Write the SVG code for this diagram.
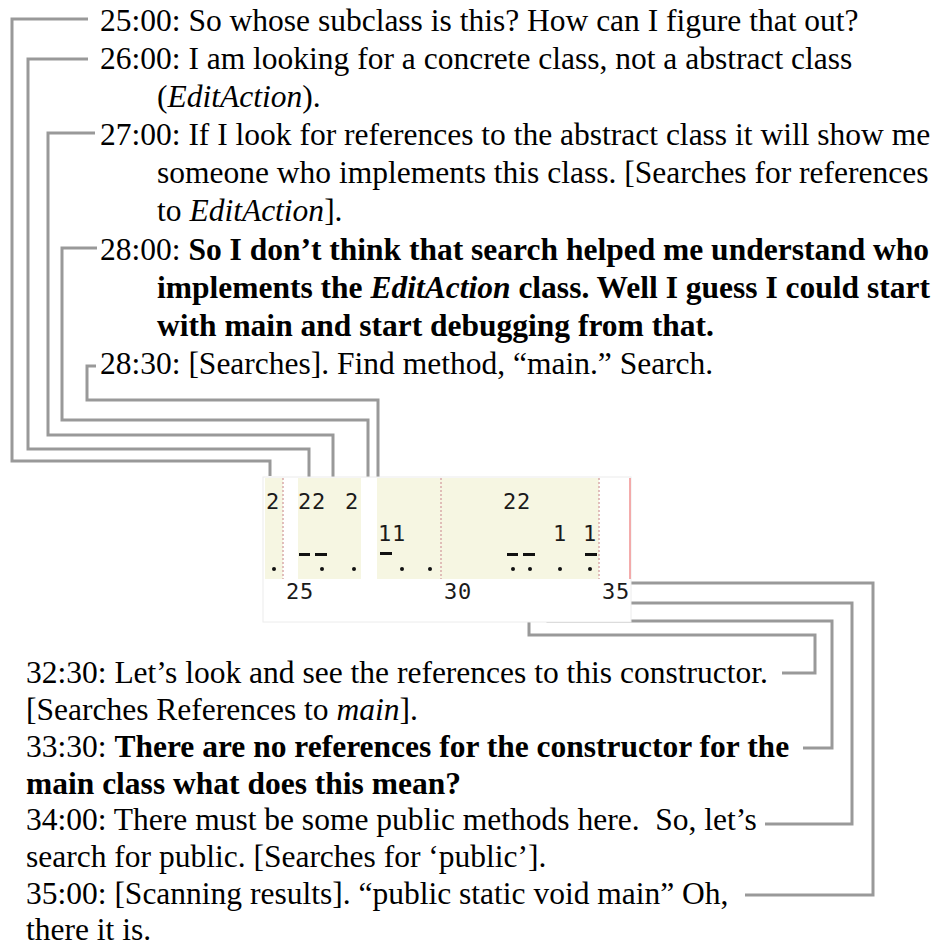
<svg xmlns="http://www.w3.org/2000/svg" width="940" height="950" viewBox="0 0 940 950">
<style>
.t{font-family:"Liberation Serif","Times New Roman",serif;font-size:31.5px;fill:#000;white-space:pre}
.b{font-weight:bold}
.i{font-style:italic}
.c{fill:none;stroke:#999;stroke-width:3;stroke-linejoin:miter}
.m{font-family:"DejaVu Sans Mono",monospace;font-size:22px;fill:#1a1a1a;letter-spacing:0.8px}
.dl{stroke:#d9aaaa;stroke-width:1.5;stroke-dasharray:2 2}
</style>
<rect width="940" height="950" fill="#fff"/>
<g id="connectors">
<polyline class="c" points="88,19 12,19 12,461 270,461 270,476"/>
<polyline class="c" points="88,59 28,59 28,449 309,449 309,477"/>
<polyline class="c" points="95,133 48,133 48,435 333,435 333,480"/>
<polyline class="c" points="97,248 62,248 62,420 368,420 368,478"/>
<polyline class="c" points="96,366 87,366 87,400 378,400 378,478"/>
<polyline class="c" points="529,568 529,635 815,635 815,673 782,673"/>
<polyline class="c" points="548,553 548,621 832,621 832,748 803,748"/>
<polyline class="c" points="567,553 567,603 852,603 852,824 765,824"/>
<polyline class="c" points="593,567 593,583 873,583 873,895 745,895"/>
</g>
<g id="timeline">
<rect x="263" y="477" width="368" height="145" fill="#fff" stroke="#ececec" stroke-width="1"/>
<rect x="265" y="478" width="18" height="101" fill="#f6f6e2"/>
<rect x="298" y="478" width="63" height="101" fill="#f6f6e2"/>
<rect x="377" y="478" width="222" height="101" fill="#f6f6e2"/>
<line class="dl" x1="283" y1="478" x2="283" y2="579"/>
<line class="dl" x1="441" y1="478" x2="441" y2="579"/>
<line class="dl" x1="599" y1="478" x2="599" y2="579"/>
<line x1="630" y1="478" x2="630" y2="579" stroke="#f09090" stroke-width="1.5"/>
<text class="m" x="266" y="509">2</text>
<text class="m" x="298" y="509">22</text>
<text class="m" x="345" y="509">2</text>
<text class="m" x="503" y="509">22</text>
<text class="m" x="378" y="541">11</text>
<text class="m" x="553" y="541">1</text>
<text class="m" x="583" y="541">1</text>
<g fill="#111">
<rect x="299" y="553" width="11" height="3"/>
<rect x="315" y="553" width="12" height="3"/>
<rect x="380" y="552" width="12" height="3"/>
<rect x="507" y="553" width="11" height="3"/>
<rect x="523" y="553" width="12" height="3"/>
<rect x="585" y="553" width="12" height="3"/>
<circle cx="274" cy="569" r="2"/>
<circle cx="322" cy="569" r="2"/>
<circle cx="354" cy="569" r="2"/>
<circle cx="402" cy="569" r="2"/>
<circle cx="430" cy="569" r="2"/>
<circle cx="513" cy="569" r="2"/>
<circle cx="530" cy="569" r="2"/>
<circle cx="560" cy="569" r="2"/>
<circle cx="590" cy="569" r="2"/>
</g>
<text class="m" x="286" y="599" fill="#333">25</text>
<text class="m" x="444" y="599" fill="#333">30</text>
<text class="m" x="602" y="599" fill="#333">35</text>
</g>
<g id="n2500"><text class="t" x="100" y="31">25:00: So whose subclass is this? How can I figure that out?</text></g>
<g id="n2600"><text class="t" x="100" y="69">26:00: I am looking for a concrete class, not a abstract class</text>
<text class="t" x="157" y="107">(<tspan class="i">EditAction</tspan>).</text></g>
<g id="n2700"><text class="t" x="100" y="145">27:00: If I look for references to the abstract class it will show me</text>
<text class="t" x="157" y="183">someone who implements this class. [Searches for references</text>
<text class="t" x="157" y="221">to <tspan class="i">EditAction</tspan>].</text></g>
<g id="n2800"><text class="t" x="100" y="259.5">28:00: <tspan class="b">So I don’t think that search helped me understand who</tspan></text>
<text class="t b" x="157" y="297.5">implements the <tspan class="i">EditAction</tspan> class. Well I guess I could start</text>
<text class="t b" x="157" y="335.5">with main and start debugging from that.</text></g>
<g id="n2830"><text class="t" x="100" y="373.5">28:30: [Searches]. Find method, “main.” Search.</text></g>
<g id="n3230"><text class="t" x="26" y="683">32:30: Let’s look and see the references to this constructor.</text>
<text class="t" x="26" y="720">[Searches References to <tspan class="i">main</tspan>].</text></g>
<g id="n3330"><text class="t" x="26" y="757">33:30: <tspan class="b">There are no references for the constructor for the</tspan></text>
<text class="t b" x="26" y="793.5">main class what does this mean?</text></g>
<g id="n3400"><text class="t" x="26" y="830">34:00: There must be some public methods here.  So, let’s</text>
<text class="t" x="26" y="867">search for public. [Searches for ‘public’].</text></g>
<g id="n3500"><text class="t" x="26" y="903.5">35:00: [Scanning results]. “public static void main” Oh,</text>
<text class="t" x="26" y="940">there it is.</text></g>
</svg>
